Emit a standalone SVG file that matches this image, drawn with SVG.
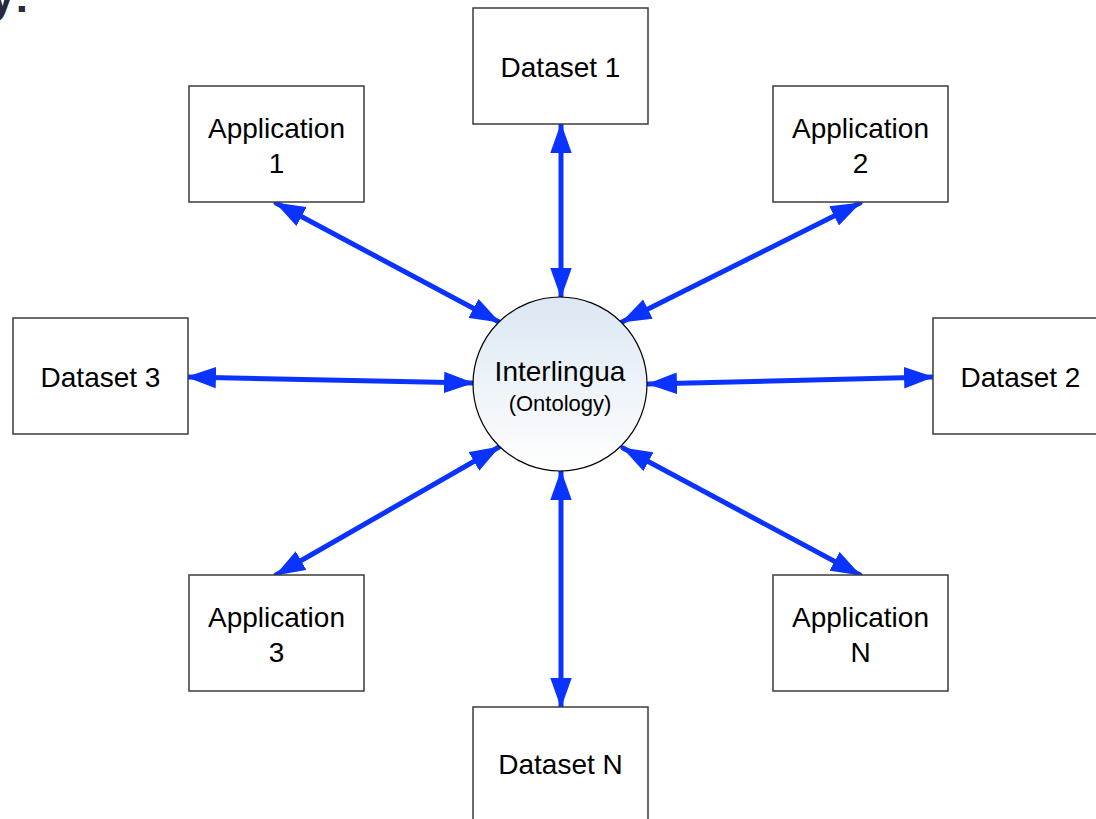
<svg xmlns="http://www.w3.org/2000/svg" width="1096" height="819" viewBox="0 0 1096 819">
  <style>
    .box { fill: #ffffff; stroke: #3c3c3c; stroke-width: 1.5; }
    .label { font-family: "Liberation Sans", Arial, sans-serif; font-size: 28px; fill: #000000; text-anchor: middle; }
    .small { font-size: 22px; }
    .link { stroke: #0a33ff; stroke-width: 5; stroke-linecap: round; fill: none; marker-start: url(#head); marker-end: url(#head); }
    .title { font-family: "Liberation Sans", Arial, sans-serif; font-size: 44px; font-weight: bold; fill: #2a2a38; }
  </style>
  <defs>
    <linearGradient id="hubFill" x1="0" y1="0" x2="0" y2="1">
      <stop offset="0" stop-color="#dbe7f3"/>
      <stop offset="1" stop-color="#ffffff"/>
    </linearGradient>
    <marker id="head" markerUnits="userSpaceOnUse" markerWidth="30" markerHeight="22" viewBox="0 0 28 20" refX="27" refY="10" orient="auto-start-reverse">
      <path d="M0,0 L28,10 L0,20 Z" fill="#0a33ff"/>
    </marker>
  </defs>

  <rect width="1096" height="819" fill="#ffffff"/>

  <!-- clipped heading fragment at top-left corner -->
  <text class="title" x="-10" y="12">y:</text>

  <!-- connectors: every outer node linked both ways to the hub -->
  <g id="connectors">
    <line class="link" x1="561" y1="124" x2="561" y2="297"/>
    <line class="link" x1="276" y1="203" x2="499" y2="322"/>
    <line class="link" x1="860" y1="203" x2="622" y2="322"/>
    <line class="link" x1="187" y1="377" x2="473" y2="383"/>
    <line class="link" x1="933" y1="377" x2="648" y2="384"/>
    <line class="link" x1="276" y1="575" x2="499" y2="447"/>
    <line class="link" x1="860" y1="575" x2="623" y2="448"/>
    <line class="link" x1="561" y1="707" x2="561" y2="471"/>
  </g>

  <g id="hub">
    <circle cx="560" cy="384" r="87" fill="url(#hubFill)" stroke="#000000" stroke-width="1.2"/>
    <text class="label" x="560" y="381">Interlingua</text>
    <text class="label small" x="560" y="411">(Ontology)</text>
  </g>

  <g id="dataset-1">
    <rect class="box" x="473" y="8" width="175" height="116"/>
    <text class="label" x="560.5" y="77">Dataset 1</text>
  </g>

  <g id="application-1">
    <rect class="box" x="189" y="86" width="175" height="116"/>
    <text class="label" x="276.5" y="138">Application</text>
    <text class="label" x="276.5" y="173">1</text>
  </g>

  <g id="application-2">
    <rect class="box" x="773" y="86" width="175" height="116"/>
    <text class="label" x="860.5" y="138">Application</text>
    <text class="label" x="860.5" y="173">2</text>
  </g>

  <g id="dataset-3">
    <rect class="box" x="13" y="318" width="175" height="116"/>
    <text class="label" x="100.5" y="387">Dataset 3</text>
  </g>

  <g id="dataset-2">
    <rect class="box" x="933" y="318" width="175" height="116"/>
    <text class="label" x="1020.5" y="387">Dataset 2</text>
  </g>

  <g id="application-3">
    <rect class="box" x="189" y="575" width="175" height="116"/>
    <text class="label" x="276.5" y="627">Application</text>
    <text class="label" x="276.5" y="662">3</text>
  </g>

  <g id="application-n">
    <rect class="box" x="773" y="575" width="175" height="116"/>
    <text class="label" x="860.5" y="627">Application</text>
    <text class="label" x="860.5" y="662">N</text>
  </g>

  <g id="dataset-n">
    <rect class="box" x="473" y="707" width="175" height="116"/>
    <text class="label" x="560.5" y="774">Dataset N</text>
  </g>
</svg>
